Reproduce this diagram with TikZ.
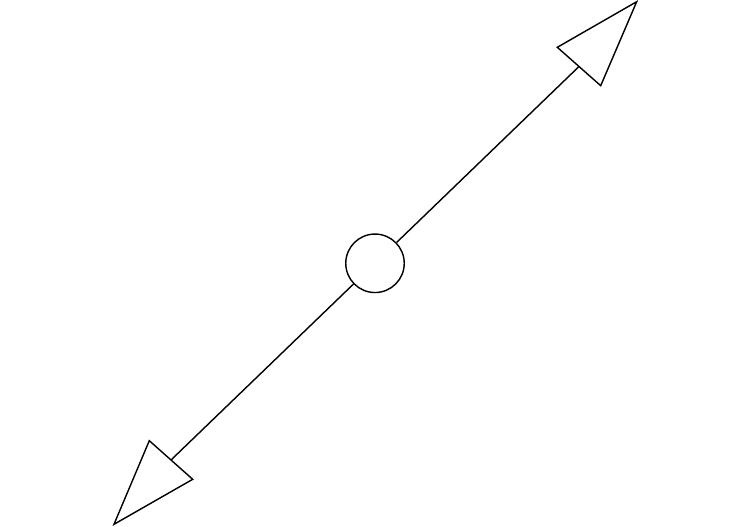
\documentclass[tikz,border=0pt]{standalone}
\usetikzlibrary{positioning}
\begin{document}
\begin{tikzpicture}[x=0.02cm, y=-0.02cm,
    line/.style={line width=0.8pt, line join=miter},
    hub/.style={draw, circle, line width=0.8pt, minimum size=1.17cm, inner sep=0pt}
]
\useasboundingbox (0,0) rectangle (750,527);

% Central circle
\node[hub] (hub) at (375,263.3) {};

% Arrow heads
\coordinate (upbase) at (579,66.5);
\coordinate (lowbase) at (171,460);
\draw[line] (557.3,47.3) -- (636.7,1.7) -- (600.7,85.7) -- cycle;
\draw[line] (149.3,440.7) -- (114,524.3) -- (192.7,479.3) -- cycle;

% Shafts
\draw[line] (hub) -- (upbase);
\draw[line] (hub) -- (lowbase);

\end{tikzpicture}
\end{document}
